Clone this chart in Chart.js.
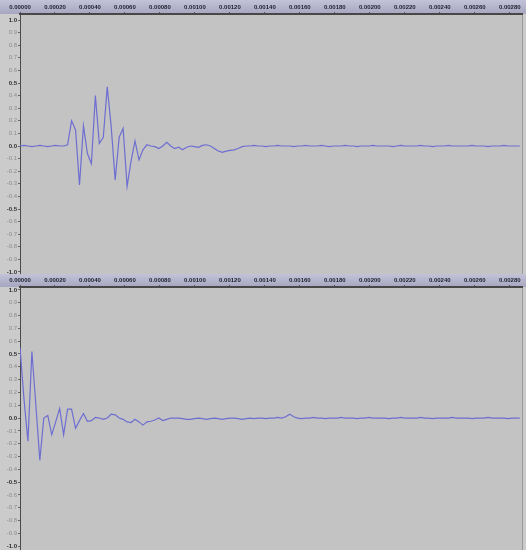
<!DOCTYPE html>
<html>
<head>
<meta charset="utf-8">
<script src="https://cdn.jsdelivr.net/npm/chart.js@4"></script>
<style>
  body { margin: 0; background: #c8c8c8; }
  .panel { position: relative; width: 526px; }
</style>
</head>
<body>
<div class="panel" style="height:274px"><canvas id="topWave"></canvas></div>
<div class="panel" style="height:276px"><canvas id="bottomWave"></canvas></div>
<script>
// sample rate of the recording (one value per sample)
let sampleRate = 44100;

// ruler labels (seconds) and level labels
let xTicks = [0, 0.0002, 0.0004, 0.0006, 0.0008, 0.0010, 0.0012, 0.0014,
              0.0016, 0.0018, 0.0020, 0.0022, 0.0024, 0.0026, 0.0028];
let yTicks = [1.0, 0.9, 0.8, 0.7, 0.6, 0.5, 0.4, 0.3, 0.2, 0.1, 0.0,
              -0.1, -0.2, -0.3, -0.4, -0.5, -0.6, -0.7, -0.8, -0.9, -1.0];

// upper track
let topValues = [
  0.0, 0.005, 0.0, -0.005, 0.0, 0.005, 0.0, -0.005, 0.0, 0.005, 0.0, 0.0,
  0.01, 0.20, 0.13, -0.31, 0.16, -0.06, -0.14, 0.40, 0.02, 0.07, 0.47, 0.15,
  -0.27, 0.07, 0.14, -0.32, -0.12, 0.04, -0.11, -0.03, 0.01, 0.0, -0.005, -0.02,
  0.0, 0.03, 0.0, -0.02, -0.01, -0.03, -0.01, 0.0, -0.005, -0.01, 0.005, 0.01,
  0.0, -0.02, -0.04, -0.05, -0.04, -0.035, -0.03, -0.02, -0.005, 0.0, 0.0, 0.005,
  0.0, 0.0, -0.005, 0.0, 0.0, 0.005, 0.0, 0.0, 0.0, -0.005, 0.0, 0.0,
  0.005, 0.0, 0.0, 0.0, 0.005, 0.0, -0.005, 0.0, 0.0, 0.0, 0.005, 0.0,
  0.0, -0.005, 0.0, 0.0, 0.0, 0.005, 0.0, 0.0, 0.0, 0.0, -0.005, 0.0,
  0.005, 0.0, 0.0, 0.0, 0.0, 0.005, 0.0, 0.0, -0.005, 0.0, 0.0, 0.0,
  0.005, 0.0, 0.0, 0.0, 0.0, 0.0, 0.005, 0.0, 0.0, 0.0, -0.005, 0.0,
  0.0, 0.0, 0.005, 0.0, 0.0, 0.0, 0.0
];

// lower track
let bottomValues = [
  0.55, 0.15, -0.18, 0.52, 0.10, -0.33, 0.0, 0.02, -0.13, -0.03, 0.075, -0.13,
  0.07, 0.07, -0.08, -0.02, 0.035, -0.025, -0.02, 0.005, 0.0, -0.01, 0.0, 0.03,
  0.025, 0.0, -0.01, -0.03, -0.035, -0.01, -0.03, -0.055, -0.03, -0.025, -0.015, 0.0,
  -0.02, -0.01, 0.0, 0.0, 0.0, -0.005, -0.01, -0.01, -0.005, 0.0, -0.005, -0.01,
  -0.005, 0.0, -0.005, -0.01, -0.005, 0.0, 0.0, -0.005, -0.01, -0.005, 0.0, -0.005,
  0.0, 0.0, -0.005, 0.0, 0.0, 0.005, 0.0, 0.01, 0.03, 0.01, 0.0, -0.005,
  0.0, 0.0, 0.005, 0.0, 0.0, -0.005, 0.0, 0.0, 0.0, 0.005, 0.0, 0.0,
  0.0, -0.005, 0.0, 0.0, 0.005, 0.0, 0.0, 0.0, 0.0, -0.005, 0.0, 0.0,
  0.005, 0.0, 0.0, 0.0, 0.0, 0.005, 0.0, 0.0, -0.005, 0.0, 0.0, 0.0,
  0.0, 0.005, 0.0, 0.0, 0.0, 0.0, -0.005, 0.0, 0.0, 0.0, 0.005, 0.0,
  0.0, 0.0, 0.0, -0.005, 0.0, 0.0, 0.0
];

// paints ruler, label strip and track background like the editor does
const trackBackground = {
  id: 'trackBackground',
  beforeDraw(chart) {
    let ctx = chart.ctx;
    let area = chart.chartArea;
    ctx.save();
    ctx.fillStyle = '#cbcbcb';
    ctx.fillRect(0, 0, chart.width, chart.height);
    let grad = ctx.createLinearGradient(0, 0, 0, area.top);
    grad.addColorStop(0, '#c2c2d8');
    grad.addColorStop(1, '#a6a6c0');
    ctx.fillStyle = grad;
    ctx.fillRect(0, 0, chart.width, area.top);
    ctx.fillStyle = '#c3c3c3';
    ctx.fillRect(area.left, area.top, area.right - area.left, area.bottom - area.top);
    ctx.strokeStyle = '#9a9a9a';
    ctx.beginPath();
    ctx.moveTo(area.right + 0.5, area.top);
    ctx.lineTo(area.right + 0.5, area.bottom);
    ctx.stroke();
    ctx.restore();
  }
};

// 0.0, +-0.5 and +-1.0 are drawn darker and bold
function isMajor(c) {
  if (!c || !c.tick) return false;
  let v = Math.abs(c.tick.value);
  return v < 0.01 || Math.abs(v - 0.5) < 0.01 || v > 0.99;
}

function makeWave(canvasId, values, yMin, yMax, rulerH) {
  let points = values.map(function(v, i) {
    return { x: i / sampleRate, y: v };
  });

  let Canvas = document.getElementById(canvasId).getContext('2d');
  return new Chart(Canvas, {
    type: 'line',
    data: {
      datasets: [{
        data: points,
        borderColor: '#6e6ed2',
        borderWidth: 1.2,
        pointRadius: 0,
        tension: 0,
        fill: false
      }]
    },
    options: {
      responsive: true,
      maintainAspectRatio: false,
      animation: false,
      layout: { padding: { left: 0, right: 4, top: 0, bottom: 0 } },
      plugins: { legend: { display: false }, tooltip: { enabled: false } },
      scales: {
        x: {
          type: 'linear',
          position: 'top',
          min: 0,
          max: 0.00287,
          afterBuildTicks: function(scale) {
            scale.ticks = xTicks.map(function(v) { return { value: v }; });
          },
          afterFit: function(scale) {
            scale.height = rulerH;
            scale.paddingLeft = 0;
            scale.paddingRight = 0;
          },
          grid: { drawOnChartArea: false, tickLength: 2, color: '#555' },
          border: { display: true, color: '#474747', width: 2 },
          ticks: {
            autoSkip: false,
            maxRotation: 0,
            padding: 1,
            color: '#1e1e2e',
            font: { family: 'Liberation Sans', size: 6, weight: 'bold' },
            callback: function(v) { return Number(v).toFixed(5); }
          }
        },
        y: {
          min: yMin,
          max: yMax,
          afterBuildTicks: function(scale) {
            scale.ticks = yTicks.map(function(v) { return { value: v }; });
          },
          afterFit: function(scale) {
            scale.width = 20;
            scale.paddingTop = 0;
            scale.paddingBottom = 0;
          },
          grid: { drawOnChartArea: false, tickLength: 2, color: '#666' },
          border: { display: true, color: '#4a4a4a', width: 1 },
          ticks: {
            autoSkip: false,
            padding: 1,
            color: function(c) {
              return isMajor(c) ? '#2e2e2e' : '#8c8c8c';
            },
            font: function(c) {
              return { family: 'Liberation Sans', size: 6, weight: isMajor(c) ? 'bold' : 'normal' };
            },
            callback: function(v) {
              if (Math.abs(v) < 0.001) return '0.0';
              return Number(v).toFixed(1);
            }
          }
        }
      }
    },
    plugins: [trackBackground]
  });
}

makeWave('topWave', topValues, -1.016, 1.048, 14);
makeWave('bottomWave', bottomValues, -1.03, 1.023, 13);
</script>
</body>
</html>
